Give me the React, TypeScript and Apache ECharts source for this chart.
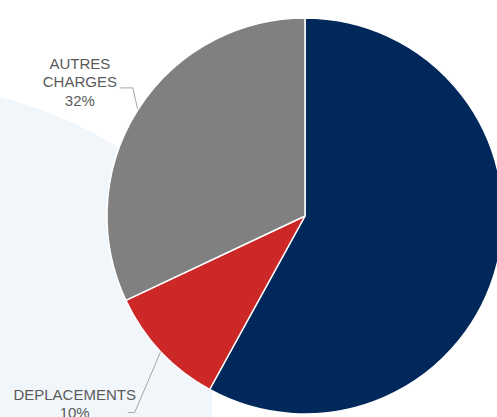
import React, { useEffect, useRef } from 'react';
import * as echarts from 'echarts';

const categories = ['PERSONNEL', 'DEPLACEMENTS', 'AUTRES CHARGES'];
const values = [58, 10, 32];
const colors = ['#00285a', '#cc2828', '#808080'];
const showLabel = [false, true, true];

export default function App() {
  const ref = useRef<HTMLDivElement>(null);
  useEffect(() => {
    document.body.style.margin = '0';
    const chart = echarts.init(ref.current!, undefined, { renderer: 'svg' });
    // light background disc (decoration), clipped at a vertical edge
    const a = -100, b = 497, R = 412, xEdge = 212;
    const pts: number[][] = [];
    for (let x = 0; x <= xEdge; x += 4) pts.push([x, b - Math.sqrt(R * R - (x - a) * (x - a))]);
    pts.push([xEdge, 417], [0, 417]);
    const layoutOffsets: Record<number, { line: number[][]; label: number[] }> = {
      1: { line: [[-26, 61], [-33, 61]], label: [-86, 52] },
      2: { line: [[-5, -22], [-18, -22]], label: [-58, -28] },
    };
    chart.setOption({
      animation: false,
      graphic: [
        { type: 'polygon', shape: { points: pts }, style: { fill: '#f1f6fb' }, z: 0, silent: true },
      ],
      series: [
        {
          type: 'pie',
          center: [305, 216],
          radius: 198,
          startAngle: 90,
          clockwise: true,
          z: 5,
          itemStyle: { borderColor: '#ffffff', borderWidth: 1.5 },
          label: {
            position: 'outside',
            color: '#5a5a5a',
            fontSize: 15,
            lineHeight: 18.5,
            width: 200,
            overflow: 'none',
            fontFamily: 'Liberation Sans, Arial, sans-serif',
            align: 'center',
            formatter: (p: any) => `${p.name.replace(' ', '\n')}\n${Math.round(p.percent)}%`,
          },
          labelLine: { lineStyle: { color: '#a6a6a6', width: 1 } },
          labelLayout: (p: any) => {
            const o = layoutOffsets[p.dataIndex];
            if (!o || !p.labelLinePoints) return {};
            const [ax, ay] = p.labelLinePoints[0];
            return {
              x: ax + o.label[0],
              y: ay + o.label[1],
              align: 'center',
              verticalAlign: 'middle',
              labelLinePoints: [[ax, ay], ...o.line.map(([dx, dy]) => [ax + dx, ay + dy])],
            };
          },
          data: categories.map((n, i) => ({
            name: n,
            value: values[i],
            itemStyle: { color: colors[i] },
            label: { show: showLabel[i] },
            labelLine: { show: showLabel[i] },
          })),
        },
      ],
    });
    return () => chart.dispose();
  }, []);
  return <div ref={ref} style={{ width: 497, height: 417 }} />;
}
